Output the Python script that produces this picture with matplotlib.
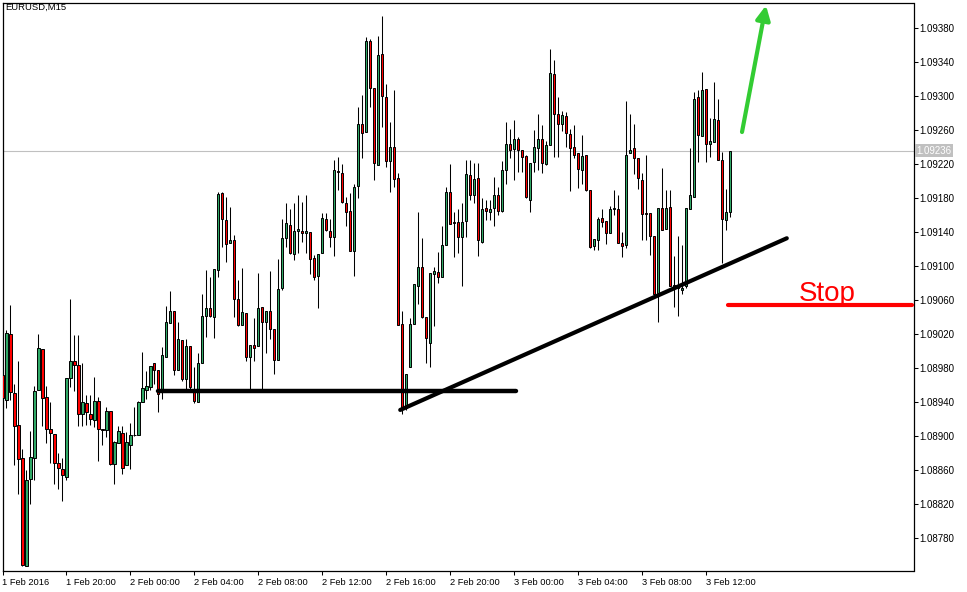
import numpy as np
import matplotlib
matplotlib.use('Agg')
import matplotlib.pyplot as plt

# EURUSD M15 candles, prices in points (1e-5), bar 0 = 1 Feb 2016 16:00
open_pts = [
    108972, 108943, 109020, 108951, 108913, 108874, 108747, 108850, 108875, 108955,
    109003, 108946, 108909, 108903, 108869, 108862, 108852, 108969, 108989, 108984,
    108926, 108939, 108926, 108919, 108942, 108909, 108907, 108930, 108867, 108892,
    108904, 108866, 108890, 108902, 108902, 108940, 108955, 108958, 108986, 108978,
    108954, 108993, 109033, 109048, 108978, 109013, 108967, 109006, 108956, 108940,
    108986, 109042, 109051, 109040, 109096, 109186, 109155, 109127, 109131, 109061,
    109031, 109045, 108993, 109007, 109006, 109052, 109035, 109048, 109026, 108990,
    109074, 109133, 109149, 109115, 109142, 109141, 109139, 109140, 109110, 109089,
    109116, 109156, 109142, 109134, 109212, 109210, 109175, 109165, 109118, 109195,
    109267, 109258, 109365, 109310, 109219, 109350, 109299, 109224, 109240, 109204,
    109032, 108933, 108982, 109032, 109077, 109099, 109040, 109010, 109091, 109093,
    109088, 109125, 109188, 109152, 109152, 109135, 109153, 109208, 109184, 109204,
    109129, 109169, 109164, 109169, 109184, 109165, 109213, 109244, 109238, 109250,
    109237, 109230, 109178, 109223, 109239, 109250, 109220, 109243, 109326, 109279,
    109268, 109277, 109256, 109240, 109233, 109213, 109231, 109190, 109124, 109131,
    109157, 109153, 109139, 109167, 109168, 109128, 109125, 109233, 109239, 109228,
    109202, 109163, 109163, 109136, 109069, 109169, 109144, 109170, 109078, 109075,
    109072, 109077, 109168, 109182, 109299, 109253, 109309, 109244, 109246, 109272,
    109225, 109155, 109164,
]
high_pts = [
    108980, 109025, 109054, 108962, 108989, 108885, 108860, 108906, 108959, 109020,
    109003, 108959, 108940, 108903, 108880, 108875, 108969, 109061, 109019, 109019,
    108986, 108949, 108949, 108970, 108946, 108909, 108935, 108930, 108895, 108912,
    108912, 108905, 108916, 108934, 108942, 108999, 108977, 108983, 108986, 108978,
    109005, 109053, 109071, 109048, 109034, 109013, 109014, 109006, 108982, 108998,
    109068, 109096, 109087, 109097, 109187, 109187, 109182, 109170, 109137, 109084,
    109098, 109045, 109008, 109039, 109092, 109052, 109048, 109095, 109026, 109109,
    109156, 109174, 109167, 109174, 109184, 109176, 109184, 109140, 109113, 109115,
    109163, 109163, 109156, 109225, 109229, 109220, 109182, 109186, 109197, 109287,
    109302, 109370, 109368, 109310, 109371, 109395, 109315, 109270, 109307, 109210,
    109048, 108973, 109039, 109079, 109164, 109133, 109040, 109092, 109099, 109117,
    109147, 109193, 109220, 109164, 109168, 109174, 109225, 109225, 109221, 109221,
    109180, 109178, 109178, 109205, 109193, 109224, 109270, 109262, 109272, 109252,
    109237, 109231, 109222, 109260, 109279, 109266, 109248, 109356, 109343, 109299,
    109283, 109281, 109262, 109266, 109233, 109254, 109231, 109190, 109132, 109158,
    109168, 109153, 109171, 109190, 109184, 109140, 109294, 109279, 109267, 109228,
    109210, 109231, 109163, 109136, 109169, 109216, 109190, 109190, 109112, 109136,
    109125, 109169, 109239, 109305, 109307, 109329, 109309, 109274, 109317, 109297,
    109234, 109191, 109236,
]
low_pts = [
    108941, 108933, 108943, 108866, 108832, 108747, 108747, 108820, 108848, 108955,
    108912, 108892, 108868, 108844, 108838, 108824, 108848, 108958, 108953, 108912,
    108912, 108913, 108913, 108911, 108871, 108890, 108899, 108866, 108844, 108892,
    108856, 108866, 108862, 108900, 108902, 108940, 108944, 108954, 108962, 108928,
    108944, 108993, 109033, 108972, 108978, 108965, 108955, 108955, 108939, 108940,
    108986, 109017, 109040, 109016, 109087, 109123, 109105, 109127, 109040, 109030,
    109031, 108989, 108954, 108989, 109006, 108954, 108998, 109014, 108973, 108990,
    109072, 109123, 109114, 109108, 109116, 109129, 109116, 109091, 109084, 109051,
    109116, 109142, 109123, 109112, 109190, 109174, 109148, 109118, 109089, 109180,
    109227, 109258, 109287, 109202, 109219, 109264, 109217, 109187, 109193, 109031,
    108926, 108931, 108982, 109032, 109056, 109039, 108986, 108982, 109030, 109080,
    109088, 109125, 109150, 109111, 109116, 109077, 109135, 109178, 109174, 109112,
    109128, 109154, 109154, 109148, 109160, 109164, 109197, 109227, 109201, 109211,
    109211, 109180, 109164, 109211, 109213, 109210, 109219, 109243, 109229, 109229,
    109259, 109240, 109189, 109227, 109192, 109197, 109189, 109121, 109119, 109119,
    109146, 109126, 109139, 109160, 109127, 109111, 109121, 109233, 109209, 109191,
    109131, 109131, 109113, 109068, 109034, 109143, 109144, 109077, 109052, 109042,
    109068, 109074, 109168, 109182, 109223, 109253, 109223, 109229, 109246, 109225,
    109104, 109143, 109158,
]
close_pts = [
    108945, 109021, 108952, 108912, 108873, 108748, 108849, 108876, 108953, 109004,
    108945, 108908, 108904, 108868, 108863, 108854, 108969, 108989, 108984, 108926,
    108940, 108929, 108920, 108941, 108909, 108907, 108930, 108867, 108893, 108906,
    108863, 108893, 108902, 108901, 108940, 108957, 108959, 108983, 108978, 108950,
    108996, 109035, 109048, 108978, 109014, 108967, 109006, 108958, 108942, 108986,
    109042, 109051, 109041, 109097, 109185, 109156, 109126, 109131, 109061, 109031,
    109046, 108993, 109008, 109004, 109051, 109035, 109048, 109026, 108990, 109073,
    109133, 109151, 109116, 109142, 109144, 109139, 109142, 109109, 109087, 109115,
    109157, 109143, 109135, 109213, 109211, 109176, 109164, 109118, 109193, 109268,
    109257, 109365, 109310, 109222, 109349, 109300, 109224, 109240, 109203, 109031,
    108933, 108973, 109032, 109079, 109099, 109040, 109016, 109092, 109094, 109087,
    109125, 109187, 109150, 109151, 109134, 109152, 109209, 109184, 109203, 109131,
    109168, 109165, 109168, 109184, 109165, 109213, 109244, 109237, 109250, 109237,
    109229, 109182, 109222, 109240, 109250, 109221, 109243, 109328, 109279, 109267,
    109278, 109257, 109239, 109231, 109214, 109230, 109190, 109123, 109132, 109156,
    109152, 109139, 109168, 109169, 109128, 109124, 109231, 109237, 109228, 109204,
    109162, 109162, 109136, 109068, 109169, 109143, 109169, 109077, 109074, 109076,
    109075, 109169, 109184, 109297, 109254, 109308, 109244, 109247, 109273, 109225,
    109156, 109164, 109236,
]

time_tick_bars = [0, 16, 32, 48, 64, 80, 96, 112, 128, 144, 160, 176]
time_tick_labels = ['1 Feb 2016', '1 Feb 20:00', '2 Feb 00:00', '2 Feb 04:00',
                    '2 Feb 08:00', '2 Feb 12:00', '2 Feb 16:00', '2 Feb 20:00',
                    '3 Feb 00:00', '3 Feb 04:00', '3 Feb 08:00', '3 Feb 12:00']
price_ticks = [1.08780, 1.08820, 1.08860, 1.08900, 1.08940, 1.08980, 1.09020, 1.09060,
               1.09100, 1.09140, 1.09180, 1.09220, 1.09260, 1.09300, 1.09340, 1.09380]
last_price = 1.09236

# drawn objects (bar index, price)
support_line = ([38.8, 128.5], [1.08953, 1.08953])
trend_line = ([99.5, 196.2], [1.08931, 1.09133])
stop_line = ([181.6, 227.5], [1.09054, 1.09054])
arrow_from = (185.0, 1.09258)
arrow_to = (191.0, 1.09407)

o = np.array(open_pts) / 1e5
h = np.array(high_pts) / 1e5
l = np.array(low_pts) / 1e5
c = np.array(close_pts) / 1e5
x = np.arange(len(o))

plt.rcParams['font.family'] = ['Liberation Sans', 'DejaVu Sans']

fig = plt.figure(figsize=(9.67, 5.92), dpi=100)
ax = fig.add_axes([2.5 / 967, 21 / 592, 911 / 967, 568.5 / 592])

# current price line
ax.axhline(last_price, color='#c0c0c0', lw=0.8, zorder=1)

# wicks
ax.vlines(x, l, h, color='black', lw=0.75, zorder=2)

# bodies
up = c > o
down = c < o
flat = c == o
body_lo = np.minimum(o, c)
body_h = np.abs(c - o)
ax.bar(x[up], body_h[up], bottom=body_lo[up], width=0.55, color='#2fa866',
       edgecolor='black', linewidth=0.7, zorder=3)
ax.bar(x[down], body_h[down], bottom=body_lo[down], width=0.55, color='#ff0000',
       edgecolor='black', linewidth=0.7, zorder=3)
ax.hlines(o[flat], x[flat] - 0.4, x[flat] + 0.4, color='black', lw=0.8, zorder=3)

# hand drawn lines
ax.plot(*support_line, color='black', lw=3.2, solid_capstyle='round', zorder=4)
ax.plot(*trend_line, color='black', lw=3.0, solid_capstyle='round', zorder=4)
ax.plot(*stop_line, color='#ff0000', lw=3.0, solid_capstyle='round', zorder=4)
ax.text(199.3, 1.09059, 'Stop', color='#ff0000', fontsize=20,
        ha='left', va='baseline', zorder=5)
ax.annotate('', xy=arrow_to, xytext=arrow_from,
            arrowprops=dict(arrowstyle='-|>', color='#33cc33', lw=3,
                            mutation_scale=21, shrinkA=0, shrinkB=0), zorder=5)

ax.set_xlim(0.1, 227.9)
ax.set_ylim(1.087415, 1.094104)

ax.yaxis.tick_right()
ax.set_yticks(price_ticks)
ax.set_yticklabels(['%.5f' % p for p in price_ticks])
ax.set_xticks(time_tick_bars)
ax.set_xticklabels(time_tick_labels)
for t in ax.get_xticklabels():
    t.set_ha('left')
ax.tick_params(axis='both', direction='out', length=3, width=0.75, colors='black')
ax.tick_params(axis='y', pad=1.5, labelsize=7)
ax.tick_params(axis='x', pad=2, labelsize=6.7)
for s in ax.spines.values():
    s.set_linewidth(0.9)

# last price label on the price scale
ax.text(1.003, last_price, '%.5f' % last_price, transform=ax.get_yaxis_transform(),
        fontsize=7, color='white', va='center', ha='left',
        bbox=dict(boxstyle='square,pad=0.15', fc='#c0c0c0', ec='none'))

fig.text(5 / 967, 1 - 3 / 592, 'EURUSD,M15', fontsize=6.8, ha='left', va='top')

fig.savefig('out.png', dpi=100, facecolor='white')
